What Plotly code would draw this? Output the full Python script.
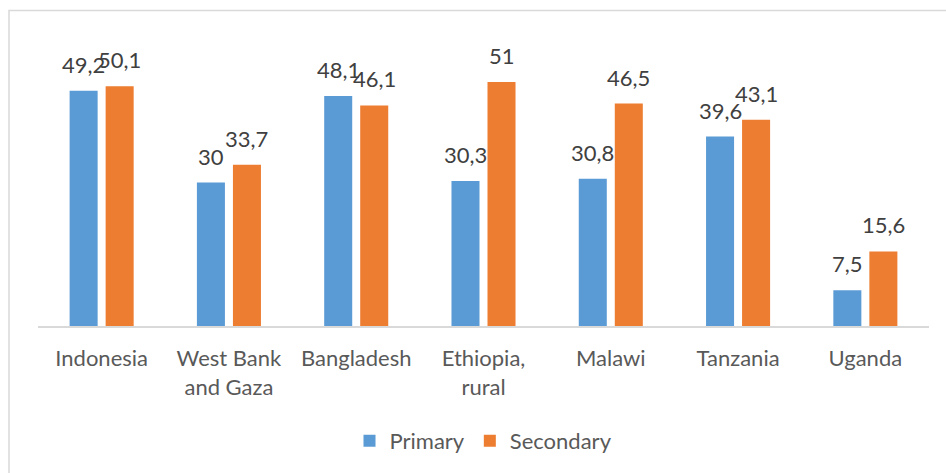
import plotly.graph_objects as go

countries = ["Indonesia", "West Bank<br>and Gaza", "Bangladesh", "Ethiopia,<br>rural",
             "Malawi", "Tanzania", "Uganda"]
primary = [49.2, 30, 48.1, 30.3, 30.8, 39.6, 7.5]
secondary = [50.1, 33.7, 46.1, 51, 46.5, 43.1, 15.6]

FONT = "Lato"
LABEL_COLOR = "#404040"
AXIS_TEXT = "#595959"


def comma(v):
    return f"{v:g}".replace(".", ",")


fig = go.Figure()
series = [("Primary", primary, "#5B9BD5", -18),
          ("Secondary", secondary, "#ED7D31", 18)]
for name, vals, color, _ in series:
    fig.add_trace(go.Bar(name=name, x=countries, y=vals,
                         marker_color=color, marker_line_width=0))

# value labels above each bar
for name, vals, color, dx in series:
    for c, v in zip(countries, vals):
        fig.add_annotation(x=c, y=v, text=comma(v), showarrow=False,
                           xanchor="center", yanchor="bottom",
                           xshift=dx, yshift=11,
                           font=dict(family=FONT, size=22, color=LABEL_COLOR))

W, H = 946, 473
L, R, T, B = 38, 17, 39, 146
pw, ph = W - L - R, H - T - B

fig.update_layout(
    width=W, height=H,
    margin=dict(l=L, r=R, t=T, b=B, pad=0),
    paper_bgcolor="white", plot_bgcolor="white",
    barmode="group", bargap=0.434, bargroupgap=0.222,
    font=dict(family=FONT, size=22, color=AXIS_TEXT),
    showlegend=True,
    legend=dict(orientation="h", x=0.5, xanchor="center",
                y=(327 - 441) / ph, yanchor="middle",
                font=dict(family=FONT, size=22, color=AXIS_TEXT),
                itemwidth=30, traceorder="normal"),
    xaxis=dict(showline=True, linecolor="#D9D9D9", linewidth=2,
               showgrid=False, ticks="", ticklabelstandoff=12,
               tickfont=dict(family=FONT, size=22, color=AXIS_TEXT)),
    yaxis=dict(range=[0, 60], visible=False, showgrid=False),
    shapes=[dict(type="rect", xref="paper", yref="paper",
                 x0=(9 - L) / pw, x1=(W + 10 - L) / pw,
                 y0=-(B + 10) / ph, y1=1 + (T - 10.5) / ph,
                 line=dict(color="#D9D9D9", width=1.5),
                 fillcolor="rgba(0,0,0,0)", layer="below")],
)

fig.write_html("out.html")
